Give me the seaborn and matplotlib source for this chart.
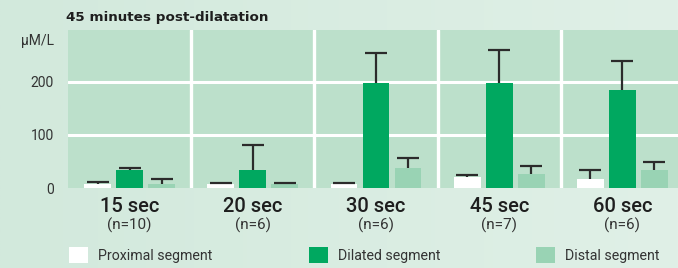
import numpy as np
import pandas as pd
import seaborn as sns
import matplotlib
matplotlib.use("Agg")
import matplotlib.pyplot as plt
from matplotlib.colors import LinearSegmentedColormap
from matplotlib.patches import Patch

# ── Data ──────────────────────────────────────────────────────────────
CATEGORIES = ["15 sec", "20 sec", "30 sec", "45 sec", "60 sec"]
N_LABELS   = ["(n=10)", "(n=6)", "(n=6)", "(n=7)", "(n=6)"]
SEGMENTS   = ["Proximal segment", "Dilated segment", "Distal segment"]

PROXIMAL     = [8, 8, 8, 21, 17]
PROXIMAL_ERR = [3, 1, 2, 4, 17]
DILATED      = [34, 34, 198, 198, 185]
DILATED_ERR  = [4, 46, 55, 62, 53]
DISTAL       = [7, 7, 38, 26, 34]
DISTAL_ERR   = [9, 2, 19, 16, 15]

Y_TICKS  = [0, 100, 200]
Y_UNIT   = "μM/L"
TITLE    = "45 minutes post-dilatation"

COLORS   = ["#ffffff", "#00a860", "#99d3b4"]
PANEL_BG = "#bce0cb"
INK      = "#2b2b2b"

sns.set_style("white")
plt.rcParams["font.family"] = ["Roboto", "DejaVu Sans"]

df = pd.DataFrame({
    "time":    CATEGORIES * 3,
    "segment": np.repeat(SEGMENTS, len(CATEGORIES)),
    "value":   PROXIMAL + DILATED + DISTAL,
})
errs = [PROXIMAL_ERR, DILATED_ERR, DISTAL_ERR]

W, H = 678, 268
fig = plt.figure(figsize=(W / 100, H / 100), dpi=100)

# soft background gradient
bg = fig.add_axes([0, 0, 1, 1], zorder=-2)
bg.imshow(np.linspace(0, 1, 256)[None, :], aspect="auto", extent=[0, 1, 0, 1],
          cmap=LinearSegmentedColormap.from_list("bg", ["#d2e9dc", "#e0f0e7"]))
bg.axis("off")

ax = fig.add_axes([68 / W, (H - 188) / H, (684 - 68) / W, 158 / H])
ax.set_facecolor(PANEL_BG)

sns.barplot(data=df, x="time", y="value", hue="segment", hue_order=SEGMENTS,
            order=CATEGORIES, palette=COLORS, saturation=1, width=0.78, gap=0.16,
            errorbar=None, linewidth=0, legend=False, ax=ax, zorder=2)

# one-sided (upper) error bars
for cont, err in zip(ax.containers, errs):
    xs = [p.get_x() + p.get_width() / 2 for p in cont.patches]
    ys = [p.get_height() for p in cont.patches]
    _, caps, _ = ax.errorbar(xs, ys, yerr=[np.zeros(len(err)), err], fmt="none",
                             ecolor=INK, elinewidth=1.6, capsize=8, capthick=1.6,
                             zorder=3)
    lower = min(caps, key=lambda c: np.mean(c.get_ydata()))
    lower.set_visible(False)

# white panel grid
for y in Y_TICKS[1:]:
    ax.axhline(y, color="white", lw=2.2, zorder=1)
for i in range(len(CATEGORIES) - 1):
    ax.axvline(i + 0.5, color="white", lw=2.4, zorder=1)

ax.set_xlim(-0.5, len(CATEGORIES) - 0.5)
ax.set_ylim(0, 297)
ax.set_yticks(Y_TICKS + [280], [str(t) for t in Y_TICKS] + [Y_UNIT])
ax.tick_params(axis="y", length=0, pad=10, labelsize=10, labelcolor="#333333")
ax.set_xticks(range(len(CATEGORIES)), CATEGORIES, fontweight="medium")
ax.tick_params(axis="x", length=0, pad=6.5, labelsize=14.5, labelcolor="#1e1e1e")
ax.set_xlabel("")
ax.set_ylabel("")
for s in ax.spines.values():
    s.set_visible(False)

for i, n in enumerate(N_LABELS):
    ax.annotate(n, xy=(i, 0), xycoords=("data", "axes fraction"),
                xytext=(0, -27), textcoords="offset points",
                ha="center", va="center", fontsize=11, color="#333333")

fig.text(66 / W, 1 - 17 / H, TITLE, fontsize=9.7, fontweight="bold",
         color="#1e1e1e", family=["DejaVu Sans"], va="center", ha="left")

handles = [Patch(facecolor=c, edgecolor="none") for c in COLORS]
fig.legend(handles, SEGMENTS, loc="center left", bbox_to_anchor=(69 / W, 1 - 255 / H),
           ncol=3, frameon=False, fontsize=10.2, handlelength=1.34, handleheight=1.3,
           handletextpad=0.7, columnspacing=6.8, borderpad=0, borderaxespad=0,
           labelcolor="#333333")

fig.savefig("out.png", dpi=100)
